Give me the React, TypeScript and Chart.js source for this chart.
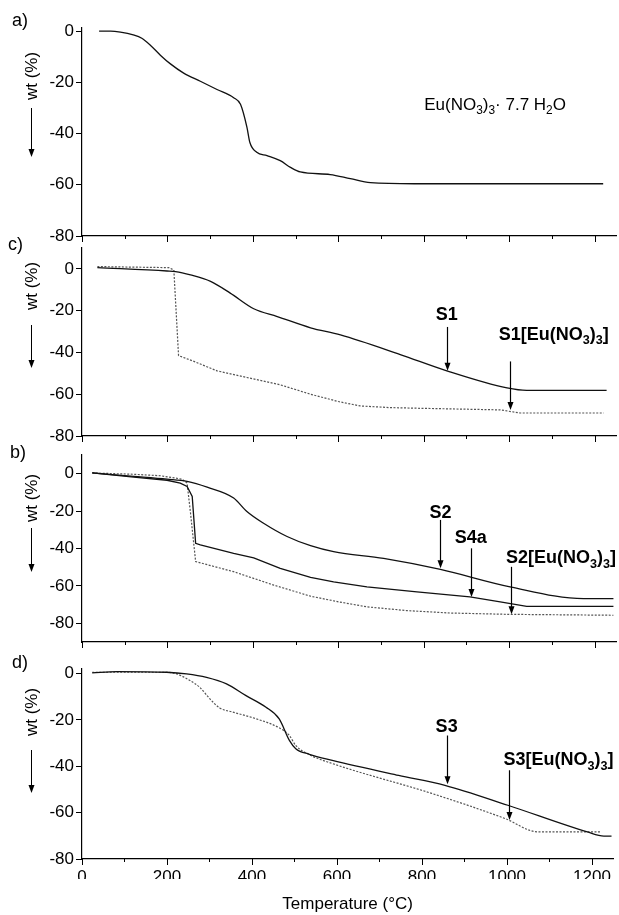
import React, { useEffect, useRef } from "react";
import { Chart, registerables } from "chart.js";

Chart.register(...registerables);

// ---------- data ----------
const xTickValues = [0, 100, 200, 300, 400, 500, 600, 700, 800, 900, 1000, 1100, 1200];
const yTickValues = [-80, -60, -40, -20, 0];

// a) Eu(NO3)3 · 7.7 H2O
const aTemp = [40, 67, 90, 120, 140, 160, 184, 207, 238, 277, 316, 355, 371, 386, 393, 409, 433, 464, 488, 511, 581, 628, 675, 778, 1220];
const aWt = [0, 0, -0.4, -1.5, -2.8, -5.5, -9.5, -12.8, -16.4, -19.6, -22.8, -26, -28.6, -37.5, -43.5, -47.3, -48.6, -50.6, -53.2, -55, -56, -57.6, -59.2, -59.6, -59.6];

// c) S1 and S1[Eu(NO3)3]
const s1Temp = [36, 199, 219, 254, 301, 347, 402, 457, 535, 605, 745, 854, 995, 1041, 1228];
const s1Wt = [0.6, -1, -1.3, -2.9, -6, -11.6, -19.1, -22.8, -28.2, -31.6, -41, -48.8, -57, -58.2, -58.2];
const s1EuTemp = [36, 203, 215, 226, 262, 316, 386, 464, 535, 600, 651, 720, 784, 979, 1026, 1221];
const s1EuWt = [1.1, 0.6, -0.5, -41.5, -44.3, -48.8, -52, -55.5, -60, -63.5, -65.6, -66.4, -66.7, -67.5, -69, -69];

// b) S2, S4a and S2[Eu(NO3)3]
const s2Temp = [24, 121, 199, 246, 293, 355, 386, 425, 480, 535, 589, 706, 839, 1002, 1174, 1244];
const s2Wt = [0.4, -1.4, -2.9, -4.1, -7.2, -13, -20.2, -26.5, -33.6, -38.5, -41.7, -45.3, -51.2, -60.5, -66.8, -66.8];
const s4aTemp = [24, 121, 199, 230, 246, 258, 266, 277, 355, 402, 464, 535, 589, 667, 784, 908, 979, 1041, 1244];
const s4aWt = [0.4, -1.8, -3.5, -5, -6.8, -12.2, -37.2, -38, -42.6, -45, -50.6, -55.5, -57.8, -60.5, -63.2, -65.9, -68.5, -70.9, -70.9];
const s2EuTemp = [24, 121, 184, 234, 246, 254, 266, 355, 449, 535, 600, 667, 760, 862, 995, 1244];
const s2EuWt = [0.4, -0.3, -1.1, -2.9, -5, -21, -47, -52.4, -59.6, -65.5, -68.5, -71.2, -73.2, -74.5, -75.2, -75.7];

// d) S3 and S3[Eu(NO3)3]
const s3Temp = [24, 82, 199, 246, 293, 340, 386, 433, 464, 488, 503, 535, 589, 745, 854, 1002, 1189, 1228, 1246];
const s3Wt = [0.3, 0.9, 0.6, -0.1, -1.6, -4.4, -9.5, -14.5, -19.5, -28.8, -32.4, -34.8, -37.4, -43.9, -48.2, -56.8, -68.3, -70.1, -70.1];
const s3EuTemp = [24, 199, 223, 254, 277, 301, 324, 355, 410, 464, 488, 503, 535, 589, 823, 995, 1073, 1221];
const s3EuWt = [0.6, 0.6, -0.1, -3, -5.9, -10.9, -14.8, -16.6, -19.5, -23.4, -26.7, -31, -35, -38.8, -51.7, -62.5, -68.3, -68.3];

// ---------- layout ----------
const W = 619;
const H = 915;
const FONT = '"Liberation Sans", Arial, Helvetica, sans-serif';
const XAXIS_H = 20;

type Seg = { t: string; sub?: boolean };
type Note = { segs: Seg[]; x: number; y: number; bold: boolean; arrowX?: number; arrowFrom?: number; arrowTo?: number };
type Series = { t: number[]; w: number[]; dotted: boolean; sharp: boolean };
type Panel = {
  key: string; top: number; bottom: number; yMin: number; yMax: number;
  letter: string; letterX: number; letterY: number; titleY: number; arrowTop: number; arrowTip: number;
  series: Series[]; notes: Note[]; showX: boolean;
};

const euSegs = (prefix: string): Seg[] => [
  { t: prefix + "[Eu(NO" }, { t: "3", sub: true }, { t: ")" }, { t: "3", sub: true }, { t: "]" },
];

const panels: Panel[] = [
  {
    key: "a", top: 28, bottom: 236, yMin: -80, yMax: 1.2,
    letter: "a)", letterX: 12, letterY: 21, titleY: 76, arrowTop: 108, arrowTip: 157,
    series: [{ t: aTemp, w: aWt, dotted: false, sharp: false }],
    notes: [{
      segs: [{ t: "Eu(NO" }, { t: "3", sub: true }, { t: ")" }, { t: "3", sub: true }, { t: "· 7.7 H" }, { t: "2", sub: true }, { t: "O" }],
      x: 967, y: -29, bold: false,
    }],
    showX: false,
  },
  {
    key: "c", top: 248, bottom: 436, yMin: -80, yMax: 10,
    letter: "c)", letterX: 8, letterY: 245, titleY: 286, arrowTop: 325, arrowTip: 368,
    series: [
      { t: s1Temp, w: s1Wt, dotted: false, sharp: false },
      { t: s1EuTemp, w: s1EuWt, dotted: true, sharp: true },
    ],
    notes: [
      { segs: [{ t: "S1" }], x: 854, y: -22, bold: true, arrowX: 854, arrowFrom: -27.8, arrowTo: -48.8 },
      { segs: euSegs("S1"), x: 1104, y: -31.6, bold: true, arrowX: 1002, arrowFrom: -44.3, arrowTo: -67.5 },
    ],
    showX: false,
  },
  {
    key: "b", top: 455, bottom: 642, yMin: -90, yMax: 10,
    letter: "b)", letterX: 10, letterY: 453, titleY: 498, arrowTop: 528, arrowTip: 572,
    series: [
      { t: s2Temp, w: s2Wt, dotted: false, sharp: false },
      { t: s4aTemp, w: s4aWt, dotted: false, sharp: true },
      { t: s2EuTemp, w: s2EuWt, dotted: true, sharp: true },
    ],
    notes: [
      { segs: [{ t: "S2" }], x: 839, y: -20.8, bold: true, arrowX: 839, arrowFrom: -24.7, arrowTo: -50.6 },
      { segs: [{ t: "S4a" }], x: 910, y: -34.5, bold: true, arrowX: 910, arrowFrom: -39.9, arrowTo: -65.9 },
      { segs: euSegs("S2"), x: 1121, y: -45.3, bold: true, arrowX: 1005, arrowFrom: -49.8, arrowTo: -75.2 },
    ],
    showX: false,
  },
  {
    key: "d", top: 669, bottom: 859, yMin: -80, yMax: 2,
    letter: "d)", letterX: 12, letterY: 663, titleY: 712, arrowTop: 750, arrowTip: 793,
    series: [
      { t: s3Temp, w: s3Wt, dotted: false, sharp: false },
      { t: s3EuTemp, w: s3EuWt, dotted: true, sharp: false },
    ],
    notes: [
      { segs: [{ t: "S3" }], x: 858, y: -23.1, bold: true, arrowX: 858, arrowFrom: -26.7, arrowTo: -47.7 },
      { segs: euSegs("S3"), x: 1121, y: -37.4, bold: true, arrowX: 1005, arrowFrom: -41.7, arrowTo: -63.2 },
    ],
    showX: true,
  },
];

// ---------- drawing helpers ----------
function drawRich(ctx: CanvasRenderingContext2D, segs: Seg[], cx: number, cy: number, size: number, bold: boolean) {
  const f = (s: number) => `${bold ? "bold " : ""}${s}px ${FONT}`;
  let total = 0;
  const widths = segs.map((sg) => {
    ctx.font = f(sg.sub ? size * 0.7 : size);
    const w = ctx.measureText(sg.t).width;
    total += w;
    return w;
  });
  let x = cx - total / 2;
  ctx.textAlign = "left";
  ctx.textBaseline = "middle";
  segs.forEach((sg, i) => {
    ctx.font = f(sg.sub ? size * 0.7 : size);
    ctx.fillText(sg.t, x, cy + (sg.sub ? size * 0.32 : 0));
    x += widths[i];
  });
}

function drawDownArrow(ctx: CanvasRenderingContext2D, x: number, y1: number, y2: number, lw: number) {
  ctx.lineWidth = lw;
  ctx.beginPath();
  ctx.moveTo(x, y1);
  ctx.lineTo(x, y2 - 6);
  ctx.stroke();
  ctx.beginPath();
  ctx.moveTo(x - 3, y2 - 8);
  ctx.lineTo(x + 3, y2 - 8);
  ctx.lineTo(x, y2);
  ctx.closePath();
  ctx.fill();
}

function PanelChart({ p }: { p: Panel }) {
  const ref = useRef<HTMLCanvasElement | null>(null);
  useEffect(() => {
    if (!ref.current) return;
    const overlay = {
      id: "overlay" + p.key,
      afterDraw(chart: any) {
        const ctx: CanvasRenderingContext2D = chart.ctx;
        const xs = chart.scales.x;
        const ys = chart.scales.y;
        const area = chart.chartArea;
        ctx.save();
        ctx.strokeStyle = "#000";
        ctx.fillStyle = "#000";
        // x ticks (major at 200, minor at 100)
        ctx.lineWidth = 1;
        xTickValues.forEach((v) => {
          const px = Math.round(xs.getPixelForValue(v)) + 0.5;
          const len = v % 200 === 0 ? 6 : 3;
          ctx.beginPath();
          ctx.moveTo(px, area.bottom);
          ctx.lineTo(px, area.bottom + len);
          ctx.stroke();
        });
        // panel letter
        ctx.font = `18px ${FONT}`;
        ctx.textAlign = "left";
        ctx.textBaseline = "middle";
        ctx.fillText(p.letter, p.letterX, p.letterY);
        // y title + arrow
        ctx.save();
        ctx.translate(32, p.titleY);
        ctx.rotate(-Math.PI / 2);
        ctx.font = `17px ${FONT}`;
        ctx.textAlign = "center";
        ctx.textBaseline = "middle";
        ctx.fillText("wt (%)", 0, 0);
        ctx.restore();
        drawDownArrow(ctx, 31.5, p.arrowTop, p.arrowTip, 1);
        // notes
        p.notes.forEach((n) => {
          drawRich(ctx, n.segs, xs.getPixelForValue(n.x), ys.getPixelForValue(n.y), n.bold ? 18 : 17, n.bold);
          if (n.arrowX !== undefined && n.arrowFrom !== undefined && n.arrowTo !== undefined) {
            const ax = Math.round(xs.getPixelForValue(n.arrowX)) + 0.5;
            drawDownArrow(ctx, ax, ys.getPixelForValue(n.arrowFrom), ys.getPixelForValue(n.arrowTo), 1.2);
          }
        });
        if (p.showX) {
          ctx.font = `17px ${FONT}`;
          ctx.textAlign = "center";
          ctx.textBaseline = "middle";
          ctx.fillText("Temperature (°C)", (area.left + area.right) / 2, 904);
        }
        ctx.restore();
      },
    };
    const chart = new Chart(ref.current, {
      type: "line",
      data: {
        datasets: p.series.map((s) => ({
          data: s.t.map((t, i) => ({ x: t, y: s.w[i] })),
          borderColor: s.dotted ? "#555" : "#111",
          borderWidth: s.dotted ? 1.2 : 1.3,
          borderDash: s.dotted ? [2, 1.5] : [],
          pointRadius: 0,
          fill: false,
          tension: 0,
          cubicInterpolationMode: s.sharp ? ("default" as const) : ("monotone" as const),
        })),
      },
      options: {
        responsive: false,
        animation: false,
        events: [],
        layout: { padding: { left: 32, right: 3, top: p.top, bottom: H - p.bottom - XAXIS_H } },
        plugins: { legend: { display: false }, tooltip: { enabled: false }, title: { display: false } },
        scales: {
          x: {
            type: "linear",
            min: 0,
            max: 1250,
            afterBuildTicks: (s: any) => { s.ticks = xTickValues.map((v) => ({ value: v })); },
            afterFit: (s: any) => { s.height = XAXIS_H; },
            grid: { display: true, drawOnChartArea: false, drawTicks: false },
            border: { display: true, color: "#000", width: 1.2 },
            ticks: {
              display: p.showX,
              autoSkip: false,
              maxRotation: 0,
              padding: 8,
              color: "#000",
              font: { family: FONT, size: 17 },
              callback: (v: any) => (Number(v) % 200 === 0 ? String(v) : ""),
            },
          },
          y: {
            type: "linear",
            min: p.yMin,
            max: p.yMax,
            afterBuildTicks: (s: any) => { s.ticks = yTickValues.map((v) => ({ value: v })); },
            afterFit: (s: any) => { s.width = 50; },
            grid: { display: true, drawOnChartArea: false, drawTicks: true, tickLength: 6, color: "#000", tickColor: "#000", tickWidth: 1 },
            border: { display: true, color: "#000", width: 1.2 },
            ticks: { padding: 2, color: "#000", font: { family: FONT, size: 17 } },
          },
        },
      },
      plugins: [overlay],
    });
    return () => chart.destroy();
  }, [p]);
  return (
    <canvas
      ref={ref}
      width={W}
      height={H}
      style={{ position: "absolute", left: 0, top: 0, width: W, height: H }}
    />
  );
}

export default function App() {
  return (
    <div style={{ position: "absolute", left: 0, top: 0, width: W, height: H, background: "#fff" }}>
      {panels.map((p) => (
        <PanelChart key={p.key} p={p} />
      ))}
    </div>
  );
}
